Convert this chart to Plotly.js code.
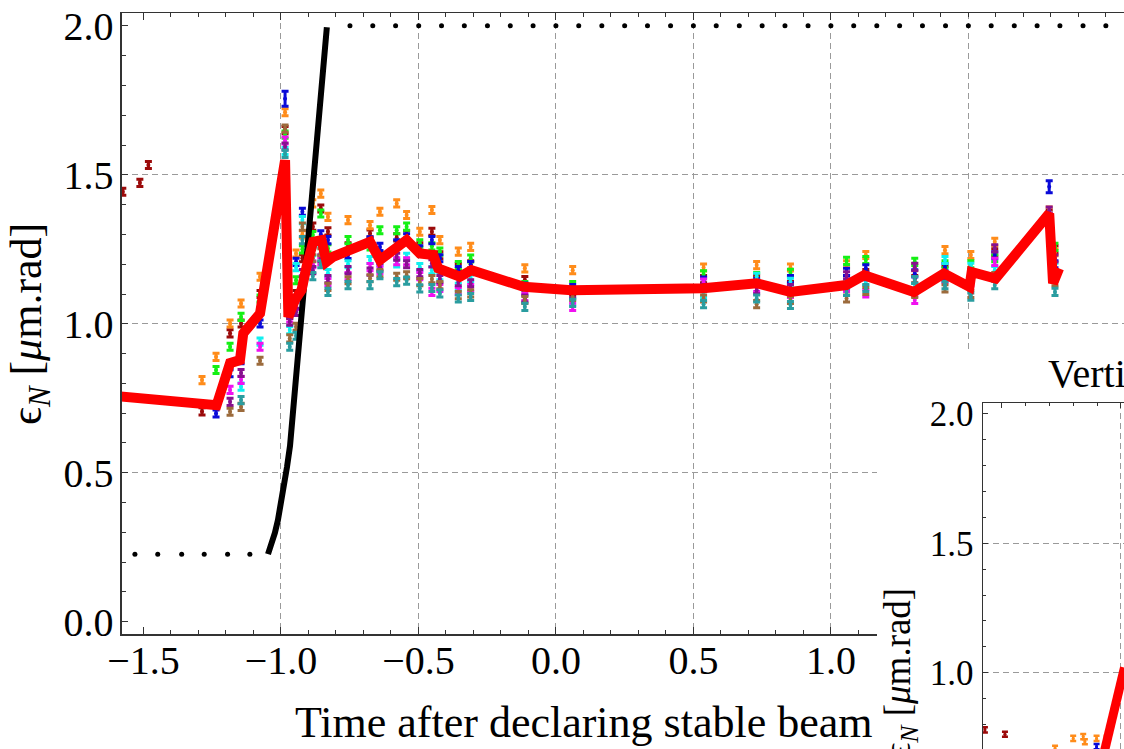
<!DOCTYPE html>
<html>
<head>
<meta charset="utf-8">
<script src="https://cdn.plot.ly/plotly-3.0.1.min.js"></script>
<style>
html,body{margin:0;padding:0;background:#fff;overflow:hidden}
#chart{width:1124px;height:749px}
</style>
</head>
<body>
<div id="chart"></div>
<script>
// ---------- main panel data (time in hours, emittance in um.rad) ----------
const times = [-1.575, -1.513, -1.482, -1.287, -1.236, -1.185, -1.145, -1.076, -0.985, -0.968,
  -0.945, -0.922, -0.884, -0.855, -0.829, -0.756, -0.676, -0.640, -0.579, -0.543,
  -0.495, -0.451, -0.422, -0.355, -0.310, -0.113, 0.061, 0.537, 0.730, 0.853,
  1.057, 1.127, 1.305, 1.415, 1.509, 1.596, 1.794, 1.815];

const seriesDarkRed = [1.443, 1.473, 1.533, 0.706, null, 0.968, 1.001, 1.100, 1.650, 1.030,
  1.100, 1.220, 1.326, 1.387, 1.310, 1.260, 1.303, 1.230, 1.290, 1.300,
  1.260, 1.309, 1.230, 1.190, 1.200, 1.147, 1.110, 1.150, 1.150, 1.130,
  1.150, 1.170, 1.150, 1.180, 1.160, 1.240, 1.370, 1.250];
const seriesOrange = [null, null, null, 0.811, 0.889, 1.001, 1.068, 1.158, 1.710, 1.070,
  1.236, 1.300, 1.404, 1.437, 1.359, 1.348, 1.331, 1.376, 1.404, 1.365,
  1.309, 1.382, 1.281, 1.242, 1.258, 1.186, 1.180, 1.189, 1.197, 1.189,
  1.200, 1.231, 1.190, 1.247, 1.231, 1.275, 1.380, 1.240];
const seriesGreen = [null, null, null, null, 0.845, 0.923, 1.023, 1.085, 1.635, 1.050,
  1.146, 1.250, 1.298, 1.370, 1.253, 1.281, 1.260, 1.314, 1.314, 1.326,
  1.270, 1.260, 1.242, 1.197, 1.219, 1.130, 1.130, 1.166, 1.160, 1.171,
  1.211, 1.214, 1.208, 1.200, 1.200, 1.220, 1.360, 1.258];
const seriesBlue = [null, null, null, null, 0.699, 0.834, 0.878, 1.001, 1.755, 1.040,
  1.208, 1.376, 1.270, 1.300, 1.281, 1.231, 1.280, 1.258, 1.270, 1.290,
  1.250, 1.281, 1.220, 1.180, 1.197, 1.125, 1.120, 1.145, 1.140, 1.150,
  1.174, 1.186, 1.169, 1.190, 1.169, 1.230, 1.460, 1.200];
const seriesCyan = [null, null, null, null, null, null, 0.789, 0.940, 1.580, 0.979,
  1.190, 1.348, 1.240, 1.270, 1.170, 1.200, 1.214, 1.208, 1.203, 1.225,
  1.190, 1.180, 1.160, 1.124, 1.152, 1.107, 1.074, 1.100, 1.158, 1.141,
  1.130, 1.141, 1.124, 1.214, 1.191, 1.180, 1.350, 1.191];
const seriesMagenta = [null, null, null, null, null, 0.778, 0.812, 0.923, 1.615, 1.018,
  1.060, 1.150, 1.200, 1.210, 1.140, 1.160, 1.190, 1.180, 1.210, 1.210,
  1.160, 1.107, 1.120, 1.110, 1.120, 1.090, 1.057, 1.138, 1.120, 1.100,
  1.120, 1.102, 1.080, 1.150, 1.140, 1.208, 1.360, 1.170];
const seriesPurple = [null, null, null, null, null, 0.738, 0.835, null, 1.595, 1.007,
  1.040, 1.170, 1.180, 1.220, 1.150, 1.180, 1.175, 1.190, 1.225, 1.200,
  1.170, 1.203, 1.150, 1.140, 1.136, 1.085, 1.100, 1.120, 1.113, 1.120,
  1.163, 1.160, 1.191, 1.158, 1.150, 1.253, 1.380, 1.219];
const seriesBrown = [null, null, null, null, null, 0.705, 0.721, 0.876, 1.655, 0.951,
  0.990, 1.326, 1.220, 1.240, 1.124, 1.146, 1.153, 1.170, 1.158, 1.163,
  1.140, 1.150, 1.130, 1.096, 1.102, 1.080, 1.090, 1.085, 1.066, 1.080,
  1.085, 1.110, 1.100, 1.119, 1.100, 1.160, 1.355, 1.140];
const seriesTeal = [null, null, null, null, null, null, 0.744, null, 1.570, 0.923,
  0.960, 1.281, 1.160, 1.200, 1.107, 1.130, 1.130, 1.163, 1.140, 1.145,
  1.119, 1.120, 1.102, 1.085, 1.090, 1.057, 1.070, 1.066, 1.085, 1.063,
  1.107, 1.120, 1.147, 1.130, 1.091, 1.130, 1.350, 1.107];
const blueErrors = [0.012, 0.012, 0.012, 0.012, 0.012, 0.012, 0.012, 0.012, 0.025, 0.012,
  0.012, 0.012, 0.012, 0.012, 0.012, 0.012, 0.012, 0.012, 0.012, 0.012,
  0.012, 0.012, 0.012, 0.012, 0.012, 0.012, 0.012, 0.012, 0.012, 0.012,
  0.012, 0.012, 0.012, 0.012, 0.012, 0.012, 0.020, 0.012];

// red summary line
const redTimes = [-1.75, -1.234, -1.185, -1.149, -1.137, -1.076, -0.985, -0.973, -0.949, -0.925,
  -0.907, -0.883, -0.852, -0.834, -0.810, -0.676, -0.640, -0.543, -0.495, -0.446,
  -0.428, -0.349, -0.307, -0.117, 0.057, 0.535, 0.730, 0.853, 1.056, 1.121,
  1.302, 1.411, 1.504, 1.512, 1.599, 1.794, 1.808, 1.830];
const redValues = [0.770, 0.727, 0.868, 0.878, 0.968, 1.035, 1.549, 1.023, 1.080, 1.113,
  1.191, 1.275, 1.281, 1.208, 1.225, 1.275, 1.214, 1.281, 1.236, 1.231,
  1.186, 1.158, 1.180, 1.124, 1.113, 1.119, 1.136, 1.107, 1.130, 1.163,
  1.107, 1.169, 1.124, 1.174, 1.152, 1.370, 1.136, 1.186];

// black model curve: flat sampled part, ramp, flat sampled part (clipped at 2.0)
const blackLowTimes = [-1.531, -1.448, -1.361, -1.279, -1.194, -1.113];
const blackLowValues = [0.227, 0.227, 0.227, 0.227, 0.227, 0.227];
const blackRampTimes = [-1.047, -1.040, -1.031, -1.022, -1.011, -1.000, -0.989, -0.978, -0.967,
  -0.953, -0.935, -0.902, -0.865, -0.833];
const blackRampValues = [0.227, 0.244, 0.267, 0.298, 0.341, 0.392, 0.452, 0.519, 0.590,
  0.737, 0.922, 1.268, 1.650, 1.995];
const blackHighTimes = [-0.749, -0.666, -0.583, -0.499, -0.416, -0.333, -0.249, -0.166, -0.083, 0.000,
  0.083, 0.167, 0.250, 0.333, 0.417, 0.500, 0.583, 0.667, 0.750, 0.833,
  0.917, 1.000, 1.083, 1.167, 1.250, 1.333, 1.417, 1.500, 1.583, 1.667,
  1.750, 1.833, 1.917, 2.000];
const blackHighValues = blackHighTimes.map(() => 2.0);

// main x tick positions (labels beyond 1.0 sit under the inset)
const mainXTickVals = [-1.5, -1.0, -0.5, 0.0, 0.5, 1.0];

// ---------- inset ("Vertical") visible data ----------
const insetDarkRedTimes = [-1.570, -1.486];
const insetDarkRedValues = [0.779, 0.762];
const insetOrangeTimes = [-1.276, -1.200, -1.158, -1.151, -1.102, -1.060];
const insetOrangeValues = [0.708, 0.746, 0.753, 0.733, 0.746, 0.746];
const insetBlueTimes = [-1.102];
const insetBlueValues = [0.714];
const insetRedTimes = [-1.12, -0.985];
const insetRedValues = [0.50, 1.02];

// ---------- styling ----------
const FONT = 'Liberation Serif, Times New Roman, serif';
const AX = '#333';
const GRID = '#9a9a9a';
const seriesDefs = [
  ['dark red', seriesDarkRed, '#9b0a0a'],
  ['orange', seriesOrange, '#ff8c1a'],
  ['green', seriesGreen, '#14f014'],
  ['blue', seriesBlue, '#0a0ad8'],
  ['cyan', seriesCyan, '#10f0f0'],
  ['magenta', seriesMagenta, '#f010f0'],
  ['purple', seriesPurple, '#87108f'],
  ['brown', seriesBrown, '#9c6b3c'],
  ['teal', seriesTeal, '#2a9da0']
];

const traces = [];
// helper empty traces to create grid overlays and the inset cover panel
[['x4','y'],['x','y4'],['x2','y2'],['x6','y3'],['x3','y6']].forEach(p => {
  traces.push({type:'scatter', mode:'markers', x:[], y:[], xaxis:p[0], yaxis:p[1], hoverinfo:'skip'});
});

seriesDefs.forEach(d => {
  const err = d[0] === 'blue'
    ? {type:'data', array: blueErrors, visible:true, color:d[2], thickness:3, width:3.5}
    : {type:'constant', value:0.012, visible:true, color:d[2], thickness:3, width:3.5};
  traces.push({type:'scatter', mode:'markers', name:d[0], x:times, y:d[1],
    marker:{size:4, color:d[2]}, error_y: err, xaxis:'x', yaxis:'y'});
});

traces.push({type:'scatter', mode:'markers', x:blackLowTimes, y:blackLowValues,
  marker:{size:5, color:'#000'}, xaxis:'x', yaxis:'y'});
traces.push({type:'scatter', mode:'lines', x:blackRampTimes, y:blackRampValues,
  line:{color:'#000', width:6}, xaxis:'x', yaxis:'y'});
traces.push({type:'scatter', mode:'markers', x:blackHighTimes, y:blackHighValues,
  marker:{size:5, color:'#000'}, xaxis:'x', yaxis:'y', cliponaxis:false});
traces.push({type:'scatter', mode:'lines', x:redTimes, y:redValues,
  line:{color:'#ff0000', width:10}, xaxis:'x', yaxis:'y'});

// inset traces
traces.push({type:'scatter', mode:'markers', x:insetDarkRedTimes, y:insetDarkRedValues,
  marker:{size:3, color:'#9b0a0a'}, error_y:{type:'constant', value:0.01, color:'#9b0a0a', thickness:2.5, width:3},
  xaxis:'x3', yaxis:'y3'});
traces.push({type:'scatter', mode:'markers', x:insetOrangeTimes, y:insetOrangeValues,
  marker:{size:3, color:'#ff8c1a'}, error_y:{type:'constant', value:0.01, color:'#ff8c1a', thickness:2.5, width:3},
  xaxis:'x3', yaxis:'y3'});
traces.push({type:'scatter', mode:'markers', x:insetBlueTimes, y:insetBlueValues,
  marker:{size:3, color:'#0a0ad8'}, error_y:{type:'constant', value:0.01, color:'#0a0ad8', thickness:2.5, width:3},
  xaxis:'x3', yaxis:'y3'});
traces.push({type:'scatter', mode:'lines', x:insetRedTimes, y:insetRedValues,
  line:{color:'#ff0000', width:9}, xaxis:'x3', yaxis:'y3'});

const mainXRange = [-1.578, 2.066];
const mainYRange = [-0.042, 2.042];
const insetXRange = [-1.578, -0.987];
const insetYRange = [0.705, 2.041];

const baseAxis = {showgrid:false, zeroline:false, showline:true, linecolor:AX, linewidth:1.5,
  ticks:'inside', tickcolor:AX, tickwidth:1, fixedrange:true};

const layout = {
  width:1124, height:749,
  margin:{l:0, r:0, t:0, b:0, pad:0},
  paper_bgcolor:'#ffffff', plot_bgcolor:'#ffffff',
  showlegend:false, hovermode:false,
  font:{family:FONT, color:'#000', size:40},
  xaxis: Object.assign({}, baseAxis, {
    domain:[0.10854, 1], range:mainXRange, anchor:'y',
    tickmode:'array', tickvals:mainXTickVals, tickformat:'.1f', ticklen:7, mirror:'ticks',
    tickfont:{size:40, family:FONT}, ticklabelstandoff:-10,
    minor:{tickmode:'linear', dtick:0.1, tick0:0, ticks:'inside', ticklen:4, tickcolor:AX, showgrid:false}
  }),
  yaxis: Object.assign({}, baseAxis, {
    domain:[0.15314, 0.98224], range:mainYRange, anchor:'x',
    dtick:0.5, tick0:0, tickformat:'.1f', ticklen:6,
    tickfont:{size:40, family:FONT}, ticklabelstandoff:-1,
    minor:{dtick:0.1, tick0:0, ticks:'inside', ticklen:4, tickcolor:AX, showgrid:false},
    title:{text:'\u03f5<sub><i>N</i></sub> [<i>\u03bc</i>m.rad]', font:{size:44, family:FONT}, standoff:8}
  }),
  xaxis4:{overlaying:'x', anchor:'y', range:mainXRange, tickvals:[-1, -0.5, 0, 0.5, 1, 1.5],
    showticklabels:false, ticks:'', showline:false, showgrid:true, gridcolor:GRID, griddash:'6px,4px',
    gridwidth:1, zeroline:false, fixedrange:true},
  yaxis4:{overlaying:'y', anchor:'x', range:mainYRange, tickvals:[0.5, 1, 1.5],
    showticklabels:false, ticks:'', showline:false, showgrid:true, gridcolor:GRID, griddash:'6px,4px',
    gridwidth:1, zeroline:false, fixedrange:true},
  // cover panel behind the inset
  xaxis2:{domain:[0.78025, 1], anchor:'y2', range:[0, 1], visible:false, fixedrange:true},
  yaxis2:{domain:[0, 0.53271], anchor:'x2', range:[0, 1], visible:false, fixedrange:true},
  // inset
  xaxis3: Object.assign({}, baseAxis, {
    domain:[0.87456, 1], anchor:'y3', range:insetXRange, side:'top',
    dtick:0.5, tick0:0, ticklen:5, showticklabels:false,
    minor:{dtick:0.1, tick0:0, ticks:'inside', ticklen:3, tickcolor:AX, showgrid:false}
  }),
  yaxis3: Object.assign({}, baseAxis, {
    domain:[0, 0.46155], anchor:'x3', range:insetYRange,
    dtick:0.5, tick0:0, tickformat:'.1f', ticklen:5,
    tickfont:{size:35, family:FONT}, ticklabelstandoff:1,
    minor:{dtick:0.1, tick0:0, ticks:'inside', ticklen:3, tickcolor:AX, showgrid:false}
  }),
  xaxis6:{overlaying:'x3', anchor:'y3', range:insetXRange, tickvals:[-1.0],
    showticklabels:false, ticks:'', showline:false, showgrid:true, gridcolor:GRID, griddash:'6px,4px',
    gridwidth:1, zeroline:false, fixedrange:true},
  yaxis6:{overlaying:'y3', anchor:'x3', range:insetYRange, tickvals:[1.0, 1.5],
    showticklabels:false, ticks:'', showline:false, showgrid:true, gridcolor:GRID, griddash:'6px,4px',
    gridwidth:1, zeroline:false, fixedrange:true},
  annotations:[
    {xref:'paper', yref:'paper', x:0.26068, y:0.0358, xanchor:'left', yanchor:'middle',
      text:'Time after declaring stable beam', showarrow:false, font:{size:44, family:FONT}},
    {xref:'paper', yref:'paper', x:0.93061, y:0.502, xanchor:'left', yanchor:'middle',
      text:'Vertical', showarrow:false, font:{size:40, family:FONT}},
    {xref:'paper', yref:'paper', x:0.80160, y:0.1017, xanchor:'center', yanchor:'middle', textangle:-90,
      text:'\u03f5<sub><i>N</i></sub> [<i>\u03bc</i>m.rad]', showarrow:false, font:{size:37, family:FONT}}
  ]
};

Plotly.newPlot('chart', traces, layout, {staticPlot:true, displayModeBar:false});
</script>
</body>
</html>
